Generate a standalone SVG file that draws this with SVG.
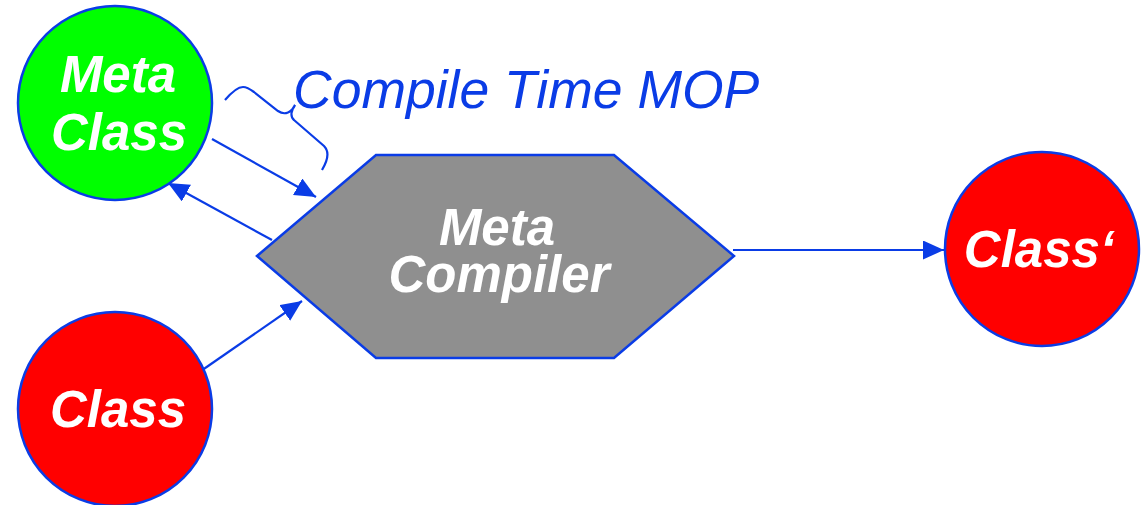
<svg xmlns="http://www.w3.org/2000/svg" width="1146" height="505" viewBox="0 0 1146 505">
  <style>
    .node { stroke: #0a3ce6; stroke-width: 2.5; }
    .label { font-family: "Liberation Sans", Arial, sans-serif; font-weight: bold; font-style: italic; fill: #ffffff; text-anchor: middle; }
    .conn { stroke: #0a3ce6; stroke-width: 2.2; fill: none; }
    .title { font-family: "Liberation Sans", Arial, sans-serif; font-style: italic; fill: #0a3ce6; font-size: 53.5px; }
  </style>
  <defs>
    <marker id="arrow" markerUnits="userSpaceOnUse" markerWidth="24" markerHeight="20" refX="21" refY="9.5" orient="auto">
      <path d="M0,0 L21,9.5 L0,19 Z" fill="#0a3ce6"/>
    </marker>
  </defs>
  <rect width="1146" height="505" fill="#ffffff"/>

  <g id="connectors">
    <line class="conn" x1="212" y1="139" x2="316" y2="197" marker-end="url(#arrow)"/>
    <line class="conn" x1="272" y1="240" x2="168" y2="183" marker-end="url(#arrow)"/>
    <line class="conn" x1="198" y1="373" x2="302" y2="301" marker-end="url(#arrow)"/>
    <line class="conn" x1="733" y1="250" x2="944" y2="250" marker-end="url(#arrow)"/>
  </g>

  <g id="meta-class">
    <circle class="node" cx="115" cy="103" r="97" fill="#00ff00"/>
    <text class="label" font-size="51" x="118" y="92">Meta</text>
    <text class="label" font-size="51" x="119" y="150">Class</text>
  </g>

  <g id="meta-compiler">
    <polygon class="node" points="257,256 376,155 614,155 734,256 614,358 376,358" fill="#8f8f8f"/>
    <text class="label" font-size="51" x="497" y="245">Meta</text>
    <text class="label" font-size="51" x="499" y="292">Compiler</text>
  </g>

  <g id="class">
    <circle class="node" cx="115" cy="409" r="97" fill="#ff0000"/>
    <text class="label" font-size="51" x="118" y="427">Class</text>
  </g>

  <g id="class-prime">
    <circle class="node" cx="1042" cy="249" r="97" fill="#ff0000"/>
    <text class="label" font-size="51" x="1039" y="267">Class‘</text>
  </g>

  <g id="compile-time-mop">
    <path class="conn" d="M225,100 C231,93 237,87 243,87 C247,87 250,89 254,92 L278,111 C285,116 292,112 295,105 C291,110 290,117 294,120 L324,146 C329,151 328,160 322,170"/>
    <text class="title" x="293" y="108">Compile Time MOP</text>
  </g>
</svg>
